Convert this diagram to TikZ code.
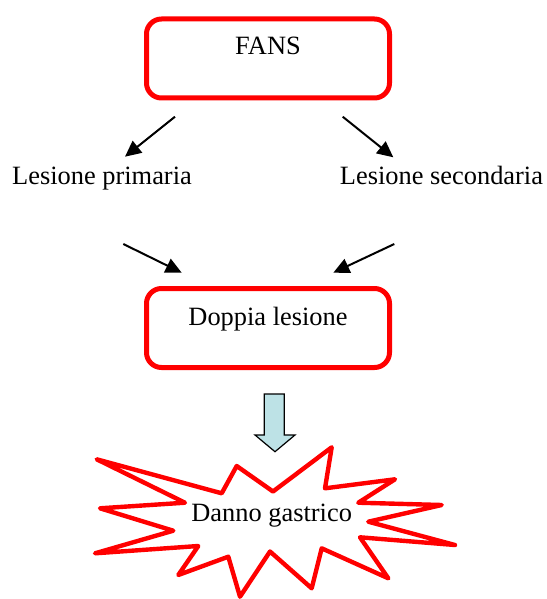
\documentclass[tikz,border=0pt]{standalone}
\usepackage{fontspec}
\setmainfont{Liberation Serif}
\usetikzlibrary{arrows.meta}
\definecolor{box-red}{HTML}{FF0000}
\definecolor{arrow-blue}{HTML}{BDE2E6}

\begin{document}
\begin{tikzpicture}[x=0.5pt, y=-0.5pt,
      every node/.style={font=\fontsize{13.2}{16}\selectfont},
      redbox/.style={draw=box-red, line width=2.5pt, rounded corners=7.5pt,
        fill=white, inner sep=0pt, minimum width=121.5pt, anchor=base},
      link/.style={-{Triangle[length=8pt,width=7.5pt]}, line width=1pt}]
    % Diagram: FANS box, two kinds of lesion, the double lesion box,
    % a block arrow and a starburst with the gastric damage.
    % Coordinates: pixels of the source, y grows downward
    \useasboundingbox (0,0) rectangle (546,599);
    \node[redbox, text height=18pt, text depth=21.5pt] (FANS) at (268,55) {FANS};
    \node[anchor=base] (LP) at (102,184) {Lesione primaria};
    \node[anchor=base] (LS) at (441.5,184) {Lesione secondaria};
    \node[redbox, text height=18.25pt, text depth=21.25pt] (DL) at (268,325) {Doppia lesione};
    % free ends of the short arrows
    \coordinate (LPtop) at (175,116.7);
    \coordinate (LPend) at (125,156.7);
    \coordinate (LStop) at (342.7,116.7);
    \coordinate (LSend) at (393.3,157.3);
    \coordinate (LPbot) at (123.3,244);
    \coordinate (DLleft) at (181.7,272.7);
    \coordinate (LSbot) at (394.3,244);
    \coordinate (DLright) at (333.3,272.7);
    \draw[link] (LPtop) -- (LPend);
    \draw[link] (LStop) -- (LSend);
    \draw[link] (LPbot) -- (DLleft);
    \draw[link] (LSbot) -- (DLright);
    % block arrow
    \draw[fill=arrow-blue, line width=0.6pt, line join=miter]
      (264.3,394) -- (284.3,394) -- (284.3,435) -- (295,435) -- (275,451.7)
      -- (255,435) -- (264.3,435) -- cycle;
    % starburst
    \draw[draw=box-red, fill=white, line width=2.2pt, line join=round]
      (96.7,459.3) -- (221.7,493.3) -- (236.7,466) -- (273,491.5) -- (331.7,447.3)
      -- (325,488.3) -- (395,479.3) -- (358.3,502.7) -- (441.7,505) -- (368.3,521.7)
      -- (455,545) -- (360,537.3) -- (388.3,578.3) -- (321.7,548.3) -- (311.7,588.3)
      -- (270,551.5) -- (240,596.7) -- (228.3,556.7) -- (178.3,575) -- (198.3,546)
      -- (95,553.3) -- (173.3,530.7) -- (100,508.3) -- (185,502.7) -- cycle;
    \node[anchor=base] (DG) at (271.7,521.7) {Danno gastrico};
  \end{tikzpicture}
\end{document}
